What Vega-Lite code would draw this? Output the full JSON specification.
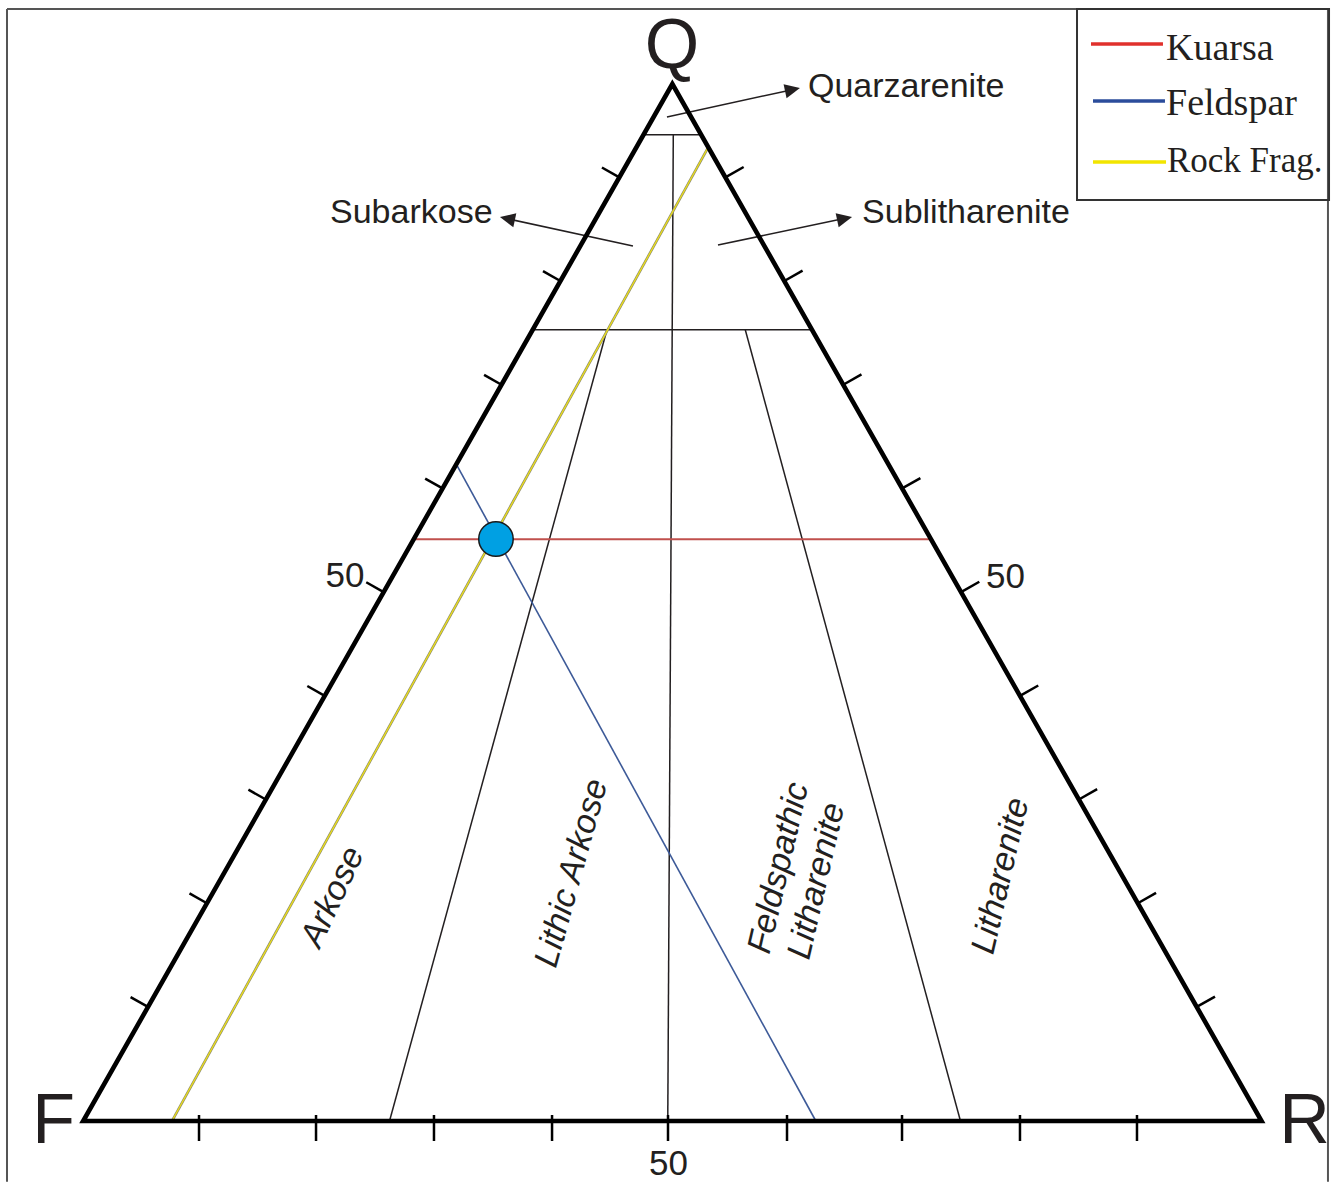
{
  "$schema": "https://vega.github.io/schema/vega-lite/v6.json",
  "width": 1336,
  "height": 1182,
  "autosize": {"type": "none"},
  "padding": 0,
  "background": "white",
  "config": {"view": {"stroke": null}},
  "datasets": {
    "frame": [
      {"x": -6.378, "y": 107.23, "x2": -6.378, "y2": -5.85},
      {"x": -6.378, "y": 107.23, "x2": 105.95, "y2": 107.23},
      {"x": 105.95, "y": 107.23, "x2": 105.95, "y2": -5.85}
    ],
    "legendBox": [
      {"x": 84.61, "y": 107.23, "x2": 106.04, "y2": 88.81}
    ],
    "classLines": [
      {"x": 47.74, "y": 95.1, "x2": 52.66, "y2": 95.1},
      {"x": 38.33, "y": 76.3, "x2": 62.07, "y2": 76.3},
      {"x": 50.28, "y": 95.1, "x2": 49.81, "y2": 0},
      {"x": 44.64, "y": 76.3, "x2": 26.15, "y2": 0},
      {"x": 56.4, "y": 76.3, "x2": 74.7, "y2": 0},
      {"x": 49.74, "y": 96.82, "x2": 60.6, "y2": 99.5},
      {"x": 46.85, "y": 84.38, "x2": 36.0, "y2": 87.05},
      {"x": 54.08, "y": 84.47, "x2": 65.0, "y2": 87.07}
    ],
    "kuarsa": [{"x": 28.21, "y": 56.1, "x2": 72.19, "y2": 56.1}],
    "feldspar": [{"x": 31.8, "y": 63.4, "x2": 62.4, "y2": 0}],
    "rockfrag": [{"x": 7.65, "y": 0, "x2": 53.25, "y2": 93.9}],
    "outline": [
      {"x": 0.1, "y": 0, "o": 1},
      {"x": 100.3, "y": 0, "o": 2},
      {"x": 50.2, "y": 100, "o": 3},
      {"x": 0.1, "y": 0, "o": 4},
      {"x": 100.3, "y": 0, "o": 5}
    ],
    "ticks": [
      {"x": 5.611, "y": 11, "x2": 4.131, "y2": 11.951},
      {"x": 10.621, "y": 21, "x2": 9.141, "y2": 21.951},
      {"x": 15.631, "y": 31, "x2": 14.151, "y2": 31.951},
      {"x": 20.641, "y": 41, "x2": 19.161, "y2": 41.951},
      {"x": 25.651, "y": 51, "x2": 24.171, "y2": 51.951},
      {"x": 30.661, "y": 61, "x2": 29.181, "y2": 61.951},
      {"x": 35.671, "y": 71, "x2": 34.191, "y2": 71.951},
      {"x": 40.681, "y": 81, "x2": 39.201, "y2": 81.951},
      {"x": 45.691, "y": 91, "x2": 44.211, "y2": 91.951},
      {"x": 94.789, "y": 11, "x2": 96.343, "y2": 11.998},
      {"x": 89.779, "y": 21, "x2": 91.333, "y2": 21.998},
      {"x": 84.769, "y": 31, "x2": 86.323, "y2": 31.998},
      {"x": 79.759, "y": 41, "x2": 81.313, "y2": 41.998},
      {"x": 74.749, "y": 51, "x2": 76.303, "y2": 51.998},
      {"x": 69.739, "y": 61, "x2": 71.293, "y2": 61.998},
      {"x": 64.729, "y": 71, "x2": 66.283, "y2": 71.998},
      {"x": 59.719, "y": 81, "x2": 61.273, "y2": 81.998},
      {"x": 54.709, "y": 91, "x2": 56.263, "y2": 91.998},
      {"x": 9.95, "y": 0.58, "x2": 9.95, "y2": -1.93},
      {"x": 19.9, "y": 0.58, "x2": 19.9, "y2": -1.93},
      {"x": 29.93, "y": 0.58, "x2": 29.93, "y2": -1.93},
      {"x": 39.97, "y": 0.58, "x2": 39.97, "y2": -1.93},
      {"x": 49.83, "y": 0.58, "x2": 49.83, "y2": -1.93},
      {"x": 59.95, "y": 0.58, "x2": 59.95, "y2": -1.93},
      {"x": 69.73, "y": 0.58, "x2": 69.73, "y2": -1.93},
      {"x": 79.76, "y": 0.58, "x2": 79.76, "y2": -1.93},
      {"x": 89.71, "y": 0.58, "x2": 89.71, "y2": -1.93}
    ],
    "sample": [{"x": 35.2, "y": 56.12, "name": "Sampel"}],
    "arrowRight": [
      {"x": 61.05, "y": 99.61},
      {"x": 65.48, "y": 87.17}
    ],
    "arrowLeft": [
      {"x": 35.54, "y": 87.17}
    ],
    "vertices": [
      {"x": 50.17, "y": 101.5, "label": "Q"},
      {"x": -2.42, "y": -2.12, "label": "F"},
      {"x": 103.95, "y": -2.12, "label": "R"}
    ],
    "fifty": [
      {"x": 22.36, "y": 51.49, "label": "50"},
      {"x": 78.53, "y": 51.4, "label": "50"},
      {"x": 49.87, "y": -5.21, "label": "50"}
    ],
    "names": [
      {"x": 61.73, "y": 98.75, "label": "Quarzarenite"},
      {"x": 21.09, "y": 86.55, "label": "Subarkose"},
      {"x": 66.33, "y": 86.55, "label": "Sublitharenite"}
    ],
    "arkose": [{"x": 21.34, "y": 21.6, "label": "Arkose"}],
    "lithicArkose": [{"x": 41.67, "y": 23.9, "label": "Lithic Arkose"}],
    "litharenites": [
      {"x": 59.27, "y": 24.4, "label": "Feldspathic"},
      {"x": 62.5, "y": 23.14, "label": "Litharenite"},
      {"x": 78.15, "y": 23.63, "label": "Litharenite"}
    ],
    "legendLines": [
      {"x": 85.8, "y": 103.86, "x2": 91.92, "y2": 103.86, "series": "Kuarsa"},
      {"x": 85.97, "y": 98.36, "x2": 92.09, "y2": 98.36, "series": "Feldspar"},
      {"x": 85.97, "y": 92.48, "x2": 92.18, "y2": 92.48, "series": "Rock Frag."}
    ],
    "legendText1": [
      {"x": 92.18, "y": 102.31, "label": "Kuarsa"},
      {"x": 92.18, "y": 97.0, "label": "Feldspar"}
    ],
    "legendText2": [
      {"x": 92.26, "y": 91.51, "label": "Rock Frag."}
    ]
  },
  "encoding": {
    "x": {"field": "x", "type": "quantitative", "scale": {"domain": [-6.973, 106.633], "nice": false, "zero": false}, "axis": null},
    "y": {"field": "y", "type": "quantitative", "scale": {"domain": [-5.882, 108.1], "nice": false, "zero": false}, "axis": null}
  },
  "layer": [
    {
      "data": {"name": "frame"},
      "mark": {"type": "rule", "color": "#555555", "strokeWidth": 2},
      "encoding": {"x2": {"field": "x2"}, "y2": {"field": "y2"}}
    },
    {
      "data": {"name": "legendBox"},
      "mark": {"type": "rect", "fill": "transparent", "stroke": "#333333", "strokeWidth": 2},
      "encoding": {"x2": {"field": "x2"}, "y2": {"field": "y2"}}
    },
    {
      "data": {"name": "classLines"},
      "mark": {"type": "rule", "color": "#231f20", "strokeWidth": 1.5},
      "encoding": {"x2": {"field": "x2"}, "y2": {"field": "y2"}}
    },
    {
      "data": {"name": "rockfrag"},
      "mark": {"type": "rule", "color": "#8c8a6c", "strokeWidth": 2.6},
      "encoding": {"x2": {"field": "x2"}, "y2": {"field": "y2"}}
    },
    {
      "data": {"name": "rockfrag"},
      "mark": {"type": "rule", "color": "#ecdf1a", "strokeWidth": 1.3},
      "encoding": {"x2": {"field": "x2"}, "y2": {"field": "y2"}}
    },
    {
      "data": {"name": "kuarsa"},
      "mark": {"type": "rule", "color": "#c0504d", "strokeWidth": 2},
      "encoding": {"x2": {"field": "x2"}, "y2": {"field": "y2"}}
    },
    {
      "data": {"name": "feldspar"},
      "mark": {"type": "rule", "color": "#3d5a98", "strokeWidth": 1.6},
      "encoding": {"x2": {"field": "x2"}, "y2": {"field": "y2"}}
    },
    {
      "data": {"name": "outline"},
      "mark": {"type": "line", "color": "#000000", "strokeWidth": 4.6, "strokeJoin": "miter", "strokeMiterLimit": 10},
      "encoding": {"order": {"field": "o", "type": "quantitative"}}
    },
    {
      "data": {"name": "ticks"},
      "mark": {"type": "rule", "color": "#000000", "strokeWidth": 2.5},
      "encoding": {"x2": {"field": "x2"}, "y2": {"field": "y2"}}
    },
    {
      "data": {"name": "sample"},
      "mark": {"type": "point", "shape": "circle", "filled": true, "fill": "#00a0e3", "stroke": "#1a1a1a", "strokeWidth": 1.5, "size": 1190, "opacity": 1}
    },
    {
      "data": {"name": "arrowRight"},
      "mark": {"type": "point", "shape": "M0,0L0.9,1.9L-0.9,1.9Z", "filled": true, "color": "#231f20", "size": 256, "angle": 78, "opacity": 1}
    },
    {
      "data": {"name": "arrowLeft"},
      "mark": {"type": "point", "shape": "M0,0L0.9,1.9L-0.9,1.9Z", "filled": true, "color": "#231f20", "size": 256, "angle": -78, "opacity": 1}
    },
    {
      "data": {"name": "vertices"},
      "mark": {"type": "text", "font": "Liberation Sans", "fontSize": 70, "align": "center", "baseline": "alphabetic", "color": "#231f20"},
      "encoding": {"text": {"field": "label"}}
    },
    {
      "data": {"name": "fifty"},
      "mark": {"type": "text", "font": "Liberation Sans", "fontSize": 35, "align": "center", "baseline": "alphabetic", "color": "#231f20"},
      "encoding": {"text": {"field": "label"}}
    },
    {
      "data": {"name": "names"},
      "mark": {"type": "text", "font": "Liberation Sans", "fontSize": 34, "align": "left", "baseline": "alphabetic", "color": "#231f20"},
      "encoding": {"text": {"field": "label"}}
    },
    {
      "data": {"name": "arkose"},
      "mark": {"type": "text", "font": "Liberation Sans", "fontStyle": "italic", "fontSize": 34, "align": "center", "baseline": "middle", "angle": -65, "color": "#231f20"},
      "encoding": {"text": {"field": "label"}}
    },
    {
      "data": {"name": "lithicArkose"},
      "mark": {"type": "text", "font": "Liberation Sans", "fontStyle": "italic", "fontSize": 34, "align": "center", "baseline": "middle", "angle": -74.5, "color": "#231f20"},
      "encoding": {"text": {"field": "label"}}
    },
    {
      "data": {"name": "litharenites"},
      "mark": {"type": "text", "font": "Liberation Sans", "fontStyle": "italic", "fontSize": 34, "align": "center", "baseline": "middle", "angle": -77, "color": "#231f20"},
      "encoding": {"text": {"field": "label"}}
    },
    {
      "data": {"name": "legendLines"},
      "mark": {"type": "rule", "strokeWidth": 3.5},
      "encoding": {
        "x2": {"field": "x2"},
        "y2": {"field": "y2"},
        "color": {"field": "series", "type": "nominal", "scale": {"domain": ["Kuarsa", "Feldspar", "Rock Frag."], "range": ["#e0302c", "#2b4c9b", "#f2e500"]}, "legend": null}
      }
    },
    {
      "data": {"name": "legendText1"},
      "mark": {"type": "text", "font": "Liberation Serif", "fontSize": 38, "align": "left", "baseline": "alphabetic", "color": "#231f20"},
      "encoding": {"text": {"field": "label"}}
    },
    {
      "data": {"name": "legendText2"},
      "mark": {"type": "text", "font": "Liberation Serif", "fontSize": 35, "align": "left", "baseline": "alphabetic", "color": "#231f20"},
      "encoding": {"text": {"field": "label"}}
    }
  ]
}
